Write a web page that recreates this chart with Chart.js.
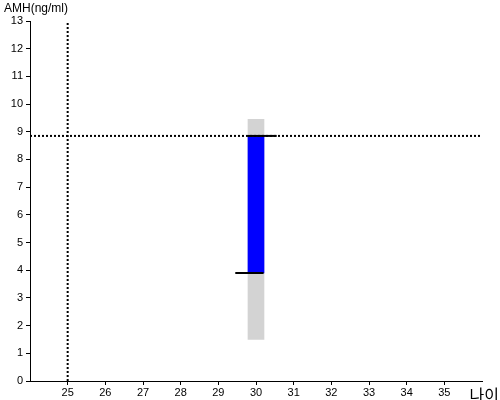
<!DOCTYPE html>
<html>
<head>
<meta charset="utf-8">
<script src="https://cdn.jsdelivr.net/npm/chart.js@4/dist/chart.umd.min.js"></script>
<style>
  html, body { margin: 0; padding: 0; background: #fff; }
  #wrap { width: 500px; height: 400px; position: relative; }
</style>
</head>
<body>
<div id="wrap"><canvas id="c" width="500" height="400"></canvas></div>
<script>
// ---- data ----
const ageTicks = [25, 26, 27, 28, 29, 30, 31, 32, 33, 34, 35];
const amhTicks = [0, 1, 2, 3, 4, 5, 6, 7, 8, 9, 10, 11, 12, 13];
const barAge = 30;
const rangeLow = 1.5;     // gray range
const rangeHigh = 9.45;
const valueLow = 3.9;     // blue range
const valueHigh = 8.85;
const upperMarkAges = [29.78, 30.55];
const lowerMarkAges = [29.45, 30.2];
const refAge = 25;
const refAmh = 8.85;
const ageMin = 24, ageMax = 36;
const amhMin = 0, amhMax = 13;

const labelPlugin = {
  id: 'labels',
  afterDraw(chart) {
    const ctx = chart.ctx;
    ctx.save();
    ctx.fillStyle = '#000';
    ctx.textBaseline = 'top';
    ctx.textAlign = 'left';
    ctx.font = '12px "Liberation Sans", Arial, sans-serif';
    ctx.fillText('AMH(ng/ml)', 4, 3);
    ctx.font = '16px "Noto Sans CJK KR", sans-serif';
    ctx.textAlign = 'right';
    ctx.textBaseline = 'bottom';
    ctx.fillText('나이', 499, 403);
    ctx.restore();
  }
};

new Chart(document.getElementById('c'), {
  type: 'bar',
  data: {
    datasets: [
      { type: 'bar', data: [{ x: barAge, y: [rangeLow, rangeHigh] }], backgroundColor: '#d3d3d3', barThickness: 16, grouped: false, order: 5 },
      { type: 'bar', data: [{ x: barAge, y: [valueLow, valueHigh] }], backgroundColor: '#0000ff', barThickness: 16, grouped: false, order: 4 },
      { type: 'line', data: [{ x: refAge, y: amhMin }, { x: refAge, y: amhMax }], borderColor: '#000', borderWidth: 2, borderDash: [2, 2], pointRadius: 0, order: 3 },
      { type: 'line', data: [{ x: ageMin, y: refAmh }, { x: ageMax, y: refAmh }], borderColor: '#000', borderWidth: 2, borderDash: [2, 2], pointRadius: 0, order: 2 },
      { type: 'line', data: upperMarkAges.map(a => ({ x: a, y: valueHigh })), borderColor: '#000', borderWidth: 2, pointRadius: 0, order: 1 },
      { type: 'line', data: lowerMarkAges.map(a => ({ x: a, y: valueLow })), borderColor: '#000', borderWidth: 2, pointRadius: 0, order: 1 }
    ]
  },
  options: {
    responsive: false,
    animation: false,
    layout: { padding: { top: 21, right: 18, left: 0, bottom: 0 } },
    plugins: { legend: { display: false }, tooltip: { enabled: false } },
    scales: {
      x: {
        type: 'linear', min: ageMin, max: ageMax, offset: false,
        afterBuildTicks(s) { s.ticks = ageTicks.map(v => ({ value: v })); },
        afterFit(s) { s.height = 19; },
        grid: { drawOnChartArea: false, offset: false, color: '#000', tickLength: 4 },
        border: { color: '#000', width: 1 },
        ticks: { color: '#000', padding: 1, maxRotation: 0, font: { size: 11, family: '"Liberation Sans", Arial, sans-serif' } }
      },
      y: {
        type: 'linear', min: amhMin, max: amhMax,
        afterBuildTicks(s) { s.ticks = amhTicks.map(v => ({ value: v })); },
        afterFit(s) { s.width = 30; },
        grid: { drawOnChartArea: false, color: '#000', tickLength: 4 },
        border: { color: '#000', width: 1 },
        ticks: { color: '#000', padding: 3, font: { size: 11, family: '"Liberation Sans", Arial, sans-serif' } }
      }
    }
  },
  plugins: [labelPlugin]
});
</script>
</body>
</html>
